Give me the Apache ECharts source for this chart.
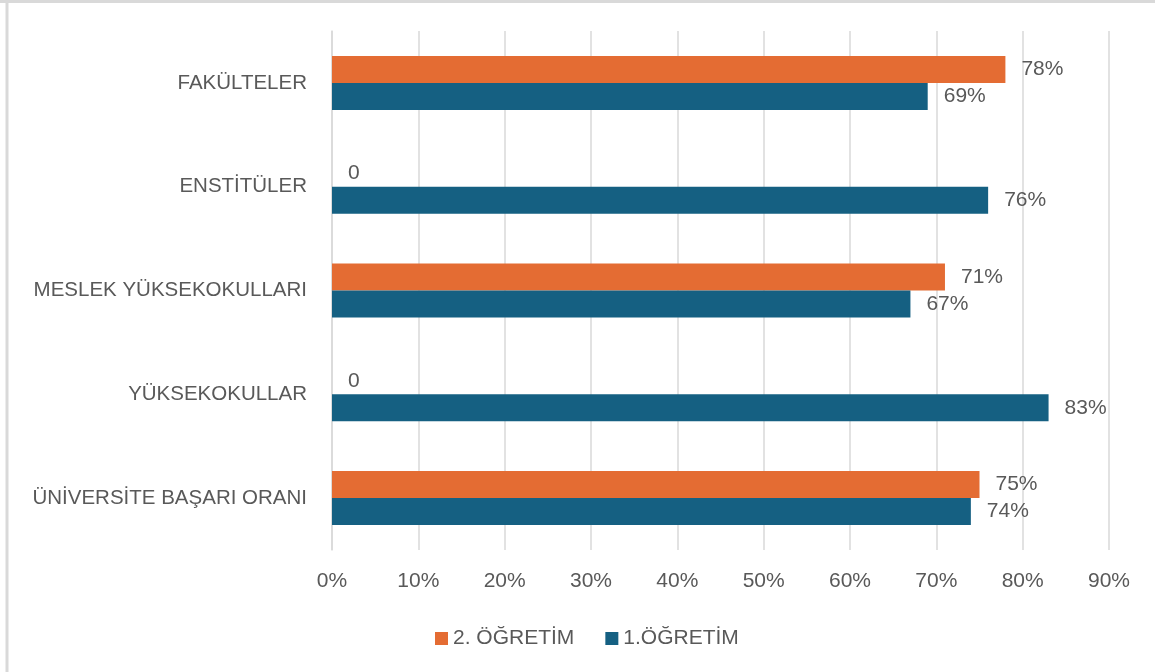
<!DOCTYPE html>
<html>
<head>
<meta charset="utf-8">
<script src="https://cdn.jsdelivr.net/npm/echarts@6/dist/echarts.min.js"></script>
<style>
html,body{margin:0;padding:0;background:#fff;}
#c{width:1155px;height:672px;}
</style>
</head>
<body>
<div id="c"></div>
<script>
const categories = ['FAKÜLTELER', 'ENSTİTÜLER', 'MESLEK YÜKSEKOKULLARI', 'YÜKSEKOKULLAR', 'ÜNİVERSİTE BAŞARI ORANI'];
const seriesNames = ['2. ÖĞRETİM', '1.ÖĞRETİM'];
const ogretim2 = [78, 0, 71, 0, 75];
const ogretim1 = [69, 76, 67, 83, 74];
const axisMin = 0, axisMax = 90, axisStep = 10;

const FONT = 'Liberation Sans';
const TXT = '#595959';
const chart = echarts.init(document.getElementById('c'));
const lbl = {
  show: true, position: 'right', distance: 16,
  color: TXT, fontSize: 21, fontFamily: FONT,
  formatter: p => p.value === 0 ? '0' : p.value + '%'
};
chart.setOption({
  animation: false,
  backgroundColor: '#fff',
  textStyle: { fontFamily: FONT },
  graphic: [
    { type: 'line', shape: { x1: 7, y1: 0, x2: 7, y2: 672 }, style: { stroke: '#d9d9d9', lineWidth: 3 } },
    { type: 'line', shape: { x1: 0, y1: 1.5, x2: 1155, y2: 1.5 }, style: { stroke: '#d9d9d9', lineWidth: 3 } }
  ],
  grid: { left: 332, right: 46, top: 31, bottom: 122, containLabel: false },
  legend: {
    top: 623, left: 430, itemWidth: 13, itemHeight: 13, itemGap: 31,
    icon: 'rect',
    textStyle: { color: TXT, fontSize: 21, fontFamily: FONT },
    data: seriesNames
  },
  xAxis: {
    type: 'value', min: axisMin, max: axisMax, interval: axisStep,
    axisLine: { show: false }, axisTick: { show: false },
    splitLine: { show: true, lineStyle: { color: '#d9d9d9', width: 1.5 } },
    axisLabel: { color: TXT, fontSize: 21, fontFamily: FONT, margin: 21, formatter: v => v + '%' }
  },
  yAxis: {
    type: 'category', data: categories, inverse: true,
    axisLine: { show: true, lineStyle: { color: '#d9d9d9', width: 1.5 } },
    axisTick: { show: false },
    axisLabel: { color: TXT, fontSize: 20.5, fontFamily: FONT, margin: 25 }
  },
  series: [
    { name: seriesNames[0], type: 'bar', data: ogretim2, itemStyle: { color: '#E46C33' }, barGap: '0%', barCategoryGap: '48%', label: lbl },
    { name: seriesNames[1], type: 'bar', data: ogretim1, itemStyle: { color: '#156082' }, barGap: '0%', barCategoryGap: '48%', label: lbl }
  ]
});
</script>
</body>
</html>
